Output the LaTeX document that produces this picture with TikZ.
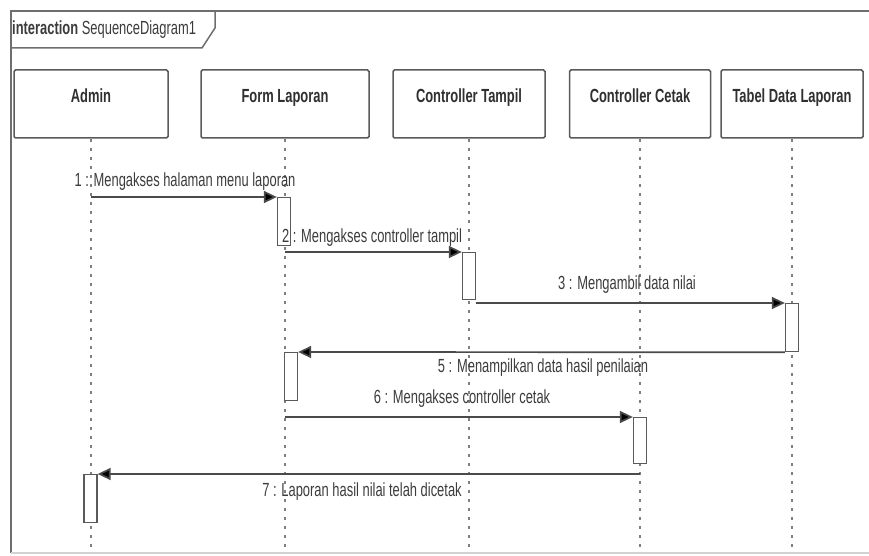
\documentclass[tikz,border=0pt]{standalone}
\usepackage{fontspec}
\setmainfont{Liberation Sans}[FakeStretch=0.68]
\usetikzlibrary{arrows.meta}
\definecolor{framegray}{HTML}{6E6E6E}
\definecolor{boxgray}{HTML}{5A5A5A}
\definecolor{linegray}{HTML}{4A4A4A}
\definecolor{txtgray}{HTML}{3C3C3C}
\begin{document}
\begin{tikzpicture}[x=1pt,y=-1pt,
  every node/.style={font=\fontsize{19}{22}\selectfont, text=txtgray},
  lifebox/.style={draw=boxgray, line width=1.5pt, fill=white, rounded corners=1.5pt,
    inner xsep=0pt, inner ysep=0pt, text height=33pt, text depth=35pt,
    font=\fontsize{19}{22}\selectfont\bfseries, text=txtgray!80!black},
  lifeline/.style={draw=gray, line width=1.2pt, dash pattern=on 3pt off 6pt},
  activation/.style={draw=boxgray, line width=1.3pt, fill=white, minimum width=13pt,
    inner sep=0pt, anchor=north},
  msg/.style={draw=linegray, line width=1.7pt,
    -{Triangle[length=13pt,width=12pt,fill=black]}},
  msglabel/.style={inner sep=0pt, text=txtgray}
]
\useasboundingbox (0,0) rectangle (869,556);

% frame and its name tab
\draw[framegray, line width=1.5pt] (869,11) -- (11,11) -- (11,553);
\draw[gray!35, line width=1.5pt] (11,553) -- (869,553);
\draw[framegray, line width=1.5pt] (11,48) -- (202,48) -- (215,28) -- (215,11);
\node[anchor=west, inner sep=0pt] (title) at (12,30)
  {{\bfseries interaction} SequenceDiagram1};

% participants
\node[lifebox, minimum width=154pt] (admin)  at (91,104)  {Admin};
\node[lifebox, minimum width=168pt] (form)   at (285,104) {Form Laporan};
\node[lifebox, minimum width=152pt] (tampil) at (469,104) {Controller Tampil};
\node[lifebox, minimum width=141pt] (cetak)  at (640,104) {Controller Cetak};
\node[lifebox, minimum width=142pt] (tabel)  at (792,104) {Tabel Data Laporan};

% lifeline ends
\coordinate (adminEnd)  at (91,548);
\coordinate (formEnd)   at (285,548);
\coordinate (tampilEnd) at (469,548);
\coordinate (cetakEnd)  at (640,548);
\coordinate (tabelEnd)  at (792,548);

\draw[lifeline] (admin.south)  -- (adminEnd);
\draw[lifeline] (form.south)   -- (formEnd);
\draw[lifeline] (tampil.south) -- (tampilEnd);
\draw[lifeline] (cetak.south)  -- (cetakEnd);
\draw[lifeline] (tabel.south)  -- (tabelEnd);

% activation bars
\node[activation, minimum height=48pt] (act1) at (284,197) {};
\node[activation, minimum height=47pt] (act2) at (469,252) {};
\node[activation, minimum height=48pt] (act3) at (792,303) {};
\node[activation, minimum height=48pt] (act4) at (291,352) {};
\node[activation, minimum height=46pt] (act5) at (640,417) {};
\node[activation, minimum height=48pt] (act6) at (90.5,474) {};

% message start points on the lifelines
\coordinate (m1s) at (91,197);
\coordinate (m2s) at (285,252);
\coordinate (m3s) at (475.5,303);
\coordinate (m6s) at (285,417);
\coordinate (m7s) at (640,474);

% messages
\draw[msg] (m1s) -- (act1.north west);
\draw[msg] (m2s) -- (act2.north west);
\draw[msg] (m3s) -- (act3.north west);
\draw[msg] (act3.south west) -- (act4.north east);
\draw[msg] (m6s) -- (act5.north west);
\draw[msg] (m7s) -- (act6.north east);

% message labels
\node[msglabel] (l1) at (185,182) {1 : Mengakses halaman menu laporan};
\node[msglabel] (l2) at (372,238) {2 : Mengakses controller tampil};
\node[msglabel] (l3) at (627,285) {3 : Mengambil data nilai};
\node[msglabel] (l5) at (543,368) {5 : Menampilkan data hasil penilaian};
\node[msglabel] (l6) at (462,399) {6 : Mengakses controller cetak};
\node[msglabel] (l7) at (362,492) {7 : Laporan hasil nilai telah dicetak};
\end{tikzpicture}
\end{document}
